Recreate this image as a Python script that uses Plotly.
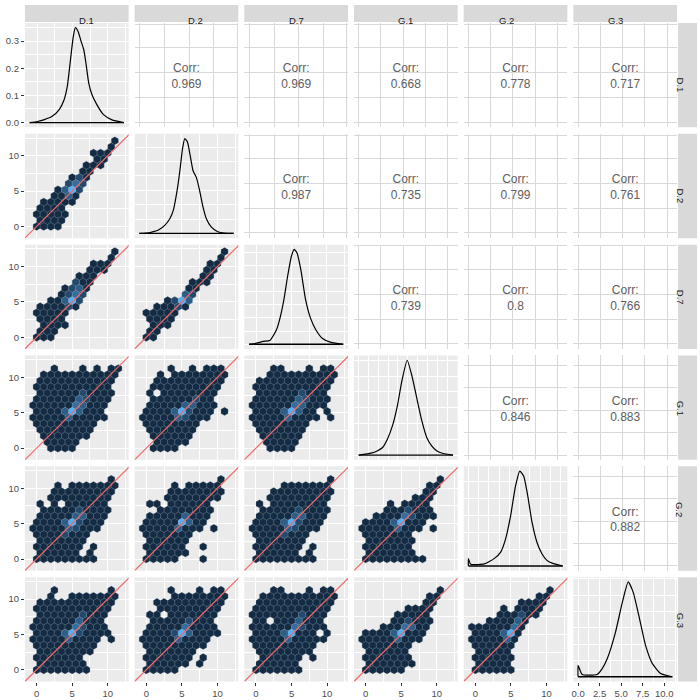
import numpy as np
import plotly.graph_objects as go

VARIABLES = ["D.1", "D.2", "D.7", "G.1", "G.2", "G.3"]

# correlations of the upper triangle, row by row
CORR_ROWS = [
    ["0.969", "0.969", "0.668", "0.778", "0.717"],
    ["0.987", "0.735", "0.799", "0.761"],
    ["0.739", "0.8", "0.766"],
    ["0.846", "0.883"],
    ["0.882"],
]

# density curves on the diagonal (value, density)
D1_X = [-1.1, 0.0, 1.0, 2.1, 3.1, 3.8, 4.25, 4.7, 5.1, 5.4, 5.8, 6.2, 6.6, 6.9, 7.3, 7.75, 8.45, 9.4, 10.6, 12.3]
D1_Y = [0, 0.004, 0.011, 0.023, 0.048, 0.084, 0.133, 0.23, 0.316, 0.349, 0.334, 0.30, 0.267, 0.219, 0.145, 0.103, 0.066, 0.029, 0.01, 0.0]
D2_X = [-1.0, 0.31, 1.0, 1.70, 2.62, 3.32, 3.80, 4.26, 4.72, 5.09, 5.41, 5.79, 6.21, 6.58, 7.04, 7.50, 7.98, 8.44, 9.14, 10.07, 10.99, 12.3]
D2_Y = [0, 0.002, 0.006, 0.012, 0.029, 0.052, 0.081, 0.139, 0.218, 0.294, 0.33, 0.318, 0.266, 0.218, 0.195, 0.150, 0.092, 0.052, 0.023, 0.006, 0.001, 0]
D7_X = [-1.0, 0.06, 1.0, 1.93, 2.86, 3.39, 3.92, 4.45, 4.99, 5.38, 5.78, 6.32, 6.98, 7.65, 8.44, 9.37, 10.57, 12.3]
D7_Y = [0, 0.004, 0.011, 0.014, 0.054, 0.101, 0.169, 0.259, 0.335, 0.36, 0.346, 0.281, 0.169, 0.101, 0.054, 0.022, 0.007, 0]
G1_X = [0, 1.58, 2.41, 3.04, 3.66, 4.30, 4.92, 5.54, 6.17, 6.79, 7.42, 8.04, 8.66, 9.29, 9.91, 10.75, 12.0]
G1_Y = [0, 0.006, 0.014, 0.024, 0.051, 0.093, 0.156, 0.24, 0.30, 0.249, 0.177, 0.108, 0.056, 0.029, 0.014, 0.005, 0]
G2_X = [0, 0, 0.24, 0.40, 1.93, 3.14, 3.94, 4.54, 5.15, 5.75, 6.27, 6.75, 7.24, 7.76, 8.36, 8.97, 9.57, 10.37, 11.5]
G2_Y = [0, 0.0216, 0.0059, 0.0039, 0.0059, 0.0216, 0.041, 0.080, 0.148, 0.236, 0.28, 0.265, 0.207, 0.129, 0.07, 0.036, 0.0165, 0.0067, 0]
G3_X = [0, 0, 0.47, 2.2, 2.8, 3.38, 4.34, 5.12, 5.82, 6.4, 7.05, 7.83, 8.61, 9.58, 10.94]
G3_Y = [0, 0.035, 0.007, 0.007, 0.025, 0.055, 0.136, 0.226, 0.29, 0.258, 0.187, 0.096, 0.041, 0.010, 0]

DENSITY = [(D1_X, D1_Y), (D2_X, D2_Y), (D7_X, D7_Y), (G1_X, G1_Y), (G2_X, G2_Y), (G3_X, G3_Y)]

# hexbin cells, top row first; "." empty, 1..9 = count level (1 lowest)
HEX_D2_D1 = ["............1.", "...........1..", ".........111..", ".........11...", "........111...",
             ".......11.....", "......121.....", ".....242......", "....1392......", "...1131.......",
             "..11111.......", ".1111.........", ".11111........", ".1111.........", ".1111........."]
HEX_D7_D1 = ["............1.", "...........1..", ".........111..", "........111...", ".......111....",
             "......211.....", ".....1231.....", "....1242......", "...11392......", ".111121.......",
             ".11111........", ".1111.........", "..1111........", ".111..........", ".111.........."]
HEX_D7_D2 = ["............1.", "...........1..", "..........11..", ".........11...", ".........11...",
             ".......111....", ".......11.....", "......32......", "....1293......", "..11121.......",
             ".11111........", ".1111.........", "..111.........", ".11...........", ".11..........."]
HEX_G1_D1 = ["..............", "...1...1.1.11.", "..11111111111.", ".11111111111..", ".11111111111..",
             ".11111121111..", ".11111132111..", "11111143111...", ".1111393111...", "11111311111...",
             ".111111111....", ".11111111.....", "..1111111.....", "..11111.......", "...1111......."]
HEX_G1_D2 = ["..............", "....1..1.111..", "...1.11111111.", "..1111111111..", "..1111111111..",
             ".1.11111111...", "..111111211...", ".1111133111...", ".1111392111.1.", "1111132111....",
             ".11111111.....", ".1111111......", "..111111......", "..11111.......", "..1111........"]
HEX_G1_D7 = ["..............", "...11...1.11..", "...1111111111.", ".11111111111..", ".11111111111..",
             ".1111112111...", ".11111132111..", "11111143111...", ".111139311.1..", "1111131111.1..",
             ".11111111.....", ".1111111......", "..111111......", "..11111.......", "...1111......."]
HEX_G2_D1 = ["..............", "...........1..", "....1.1111111.", "...111111111..", "...111111111..",
             ".1.1.111111...", "..1111121111..", ".1111133111...", ".1111392111...", "1111132111....",
             ".11112111.....", ".1111111......", ".1111111.1....", ".111111.1.....", ".111111111...."]
HEX_G2_D2 = ["..............", "...........1..", ".....1.11111..", "....11111111..", "....11111111..",
             ".11.111111....", "...11111111...", ".111113111....", ".111119311....", "111113111.1...",
             ".1111111......", ".111111.......", ".111111..1....", ".111111.......", ".11111...1...."]
HEX_G2_D7 = ["..............", "...........1..", ".....1111111..", "...111111111..", "...111111111..",
             ".1.11111111...", "..1111121111..", ".1111133111...", ".1111392111...", "1111132111....",
             ".11112111.....", ".1111111......", ".1111111.1....", ".111111.1.....", ".111111111...."]
HEX_G2_G1 = ["..............", "...........1..", "..........11..", ".........11...", "........111...",
             "....1.1111....", "....1112111...", "..111142111...", ".111139111....", "111113111.1...",
             ".1111111......", ".1111111......", ".1111111......", ".1111111......", ".111111111...."]
HEX_G3_D1 = ["..............", "...1.......1..", "...1..1111111.", ".11111111111..", ".11111111111..",
             ".1111112111...", ".1111113111...", "11111142111...", ".11113921111..", "1111131111.1..",
             ".111111111....", ".11111111.....", ".1111111......", ".1111111......", ".11111111....."]
HEX_G3_D2 = ["..............", "....1...1.11..", ".....11111111.", "..1111111111..", "...111111111..",
             ".11.1111111...", "..111112111...", ".1111141111...", ".11112931111..", "1111131111....",
             ".111111111....", ".1111111......", ".1111111.1....", ".111111.1.....", ".11111........"]
HEX_G3_D7 = ["..............", "...11...1.11..", "..11111111111.", ".11111111111..", ".11111111111..",
             "11111112111...", ".11.1113111...", "11111142111...", ".111139111.1..", "11111311111...",
             ".111111111....", ".11111111.....", "..111111.1....", ".111111.......", ".1111111......"]
HEX_G3_G1 = ["..............", "...........1..", "..........11..", ".........11...", ".......1111...",
             ".....11111....", ".....112111...", "...1114311....", ".111139111....", "111113111.....",
             ".1111111......", ".111111.......", ".1111111......", ".1111111......", ".111111......."]
HEX_G3_G2 = ["..............", "...........1..", "..........11..", ".......1111...", ".....1.1111...",
             "....111211....", "...111131.....", "11111141......", ".1111391......", "1111131.......",
             ".111111.......", ".11111........", ".111111.......", ".11111........", ".111111......."]

HEXBINS = {
    (1, 0): HEX_D2_D1,
    (2, 0): HEX_D7_D1, (2, 1): HEX_D7_D2,
    (3, 0): HEX_G1_D1, (3, 1): HEX_G1_D2, (3, 2): HEX_G1_D7,
    (4, 0): HEX_G2_D1, (4, 1): HEX_G2_D2, (4, 2): HEX_G2_D7, (4, 3): HEX_G2_G1,
    (5, 0): HEX_G3_D1, (5, 1): HEX_G3_D2, (5, 2): HEX_G3_D7, (5, 3): HEX_G3_G1, (5, 4): HEX_G3_G2,
}

FONT = "Liberation Sans, Arial, sans-serif"
HEX_XRANGE = [-1.64, 12.94]
HEX_YRANGE = [-1.65, 13.1]
SQ3 = np.sqrt(3.0)
HEX_DX = np.array([0.0, 0.5, 0.5, 0.0, -0.5, -0.5, 0.0])
HEX_DY = np.array([1.0, 0.5, -0.5, -1.0, -0.5, 0.5, 1.0]) / SQ3
LOW = np.array([19, 43, 67])
HIGH = np.array([86, 177, 247])
# gridline positions of the correlation panels (fraction of the panel)
UPPER_D = [0.05, 0.2875, 0.525, 0.7625, 0.99]
UPPER_G = [0.045, 0.26, 0.475, 0.69, 0.905]


def suffix(i, j):
    k = i * 6 + j + 1
    return "" if k == 1 else str(k)


def fill_color(level):
    t = ((level - 1) / 8.0) ** 0.7
    r, g, b = LOW + (HIGH - LOW) * t
    return f"rgb({r:.0f},{g:.0f},{b:.0f})"


def hex_traces(grid, sx):
    groups = {}
    nrow = len(grid)
    for k, line in enumerate(grid):
        r = nrow - 1 - k
        for c, ch in enumerate(line):
            if ch == ".":
                continue
            groups.setdefault(int(ch), []).append((c - 1 + 0.5 * (r % 2), r * SQ3 / 2))
    traces = []
    for level in sorted(groups):
        xs, ys = [], []
        for cx, cy in groups[level]:
            xs += list(cx + HEX_DX) + [None]
            ys += list(cy + HEX_DY) + [None]
        traces.append(go.Scatter(x=xs, y=ys, mode="lines", fill="toself",
                                 fillcolor=fill_color(level),
                                 line=dict(color="rgba(120,138,158,0.55)", width=0.5),
                                 xaxis="x" + sx, yaxis="y" + sx, hoverinfo="skip"))
    return traces


def panel_domain(i, j):
    top = 23 + 111 * i
    return [(23 + 110 * j) / 700, (127 + 110 * j) / 700], [1 - (top + 104.5) / 700, 1 - top / 700]


traces = []
shapes = []
annotations = []
layout = dict(width=700, height=700, margin=dict(l=0, r=0, t=0, b=0),
              paper_bgcolor="white", plot_bgcolor="rgba(0,0,0,0)",
              showlegend=False, font=dict(family=FONT))

tick_font = dict(family=FONT, size=9.5, color="#4D4D4D")

for i in range(6):
    for j in range(6):
        sx = suffix(i, j)
        xdom, ydom = panel_domain(i, j)
        xa = dict(domain=xdom, anchor="y" + sx, zeroline=False, showline=False,
                  showticklabels=False, ticks="", gridwidth=1.1, tickfont=tick_font)
        ya = dict(domain=ydom, anchor="x" + sx, zeroline=False, showline=False,
                  showticklabels=False, ticks="", gridwidth=1.1, tickfont=tick_font)
        if i > j:
            bg = "#EBEBEB"
            grid_minor = dict(showgrid=True, gridcolor="white", gridwidth=0.55, dtick=2.5)
            xa.update(range=HEX_XRANGE, tick0=0, dtick=5, gridcolor="white", minor=dict(grid_minor))
            ya.update(range=HEX_YRANGE, tick0=0, dtick=5, gridcolor="white", minor=dict(grid_minor))
            traces += hex_traces(HEXBINS[(i, j)], sx)
            # y = x reference line, clipped to the panel
            lo = min(HEX_XRANGE[0], HEX_YRANGE[0])
            hi = max(HEX_XRANGE[1], HEX_YRANGE[1])
            shapes.append(dict(type="line", xref="x" + sx, yref="y" + sx, x0=lo, y0=lo, x1=hi, y1=hi,
                               line=dict(color="#F06A6A", width=1.2), layer="above"))
        elif i == j:
            bg = "#EBEBEB"
            dx, dy = DENSITY[i]
            lo, hi = min(dx), max(dx)
            pad = 0.05 * (hi - lo)
            peak = max(dy)
            step = 5 if i < 3 else 2.5
            xa.update(range=[lo - pad, hi + pad], tick0=0, dtick=step, gridcolor="white",
                      minor=dict(showgrid=True, gridcolor="white", gridwidth=0.55, dtick=step / 2))
            ya.update(range=[-0.05 * peak, 1.05 * peak], tick0=0, dtick=0.1, gridcolor="white",
                      minor=dict(showgrid=True, gridcolor="white", gridwidth=0.55, dtick=0.05))
            traces.append(go.Scatter(x=dx, y=dy, mode="lines",
                                     line=dict(color="black", width=1.2, shape="spline", smoothing=0.5),
                                     xaxis="x" + sx, yaxis="y" + sx, hoverinfo="skip"))
            traces.append(go.Scatter(x=[lo, hi], y=[0, 0], mode="lines",
                                     line=dict(color="black", width=1.4),
                                     xaxis="x" + sx, yaxis="y" + sx, hoverinfo="skip"))
        else:
            bg = "white"
            xa.update(range=[0, 1], tickvals=UPPER_D if j < 3 else UPPER_G, gridcolor="#D9D9D9")
            ya.update(range=[0, 1], tickvals=UPPER_D[:4] + [0.988] if i < 3 else UPPER_G,
                      gridcolor="#D9D9D9")
            traces.append(go.Scatter(x=[0.5], y=[0.48], mode="text",
                                     text=["Corr:<br>" + CORR_ROWS[i][j - i - 1]],
                                     textposition="middle center",
                                     textfont=dict(family=FONT, size=12, color="#5E5E5E"),
                                     xaxis="x" + sx, yaxis="y" + sx, hoverinfo="skip"))
        if i == 5:
            xa.update(showticklabels=True, ticks="outside", ticklen=3, tickcolor="#333333")
            if j == 5:
                xa.update(tickformat=".1f")
        if j == 0:
            ya.update(showticklabels=True, ticks="outside", ticklen=3, tickcolor="#333333")
            if i == 0:
                ya.update(tickformat=".1f")
        layout["xaxis" + sx] = xa
        layout["yaxis" + sx] = ya
        shapes.append(dict(type="rect", xref=f"x{sx} domain", yref=f"y{sx} domain",
                           x0=0, x1=1, y0=0, y1=1, fillcolor=bg, line_width=0, layer="below"))

# facet strips
for n, name in enumerate(VARIABLES):
    xdom, _ = panel_domain(0, n)
    shapes.append(dict(type="rect", xref="paper", yref="paper", x0=xdom[0], x1=xdom[1],
                       y0=1 - 22 / 700, y1=1 - 5 / 700, fillcolor="#D9D9D9", line_width=0))
    annotations.append(dict(xref="paper", yref="paper", x=(xdom[0] + xdom[1]) / 2,
                            y=1 - 13.5 / 700, text=name, showarrow=False,
                            font=dict(family=FONT, size=9.5, color="#1A1A1A")))
    _, ydom = panel_domain(n, 0)
    shapes.append(dict(type="rect", xref="paper", yref="paper", x0=678 / 700, x1=697 / 700,
                       y0=ydom[0], y1=ydom[1], fillcolor="#D9D9D9", line_width=0))
    annotations.append(dict(xref="paper", yref="paper", x=687.5 / 700,
                            y=(ydom[0] + ydom[1]) / 2, text=name, showarrow=False, textangle=90,
                            font=dict(family=FONT, size=9.5, color="#1A1A1A")))

layout["shapes"] = shapes
layout["annotations"] = annotations

fig = go.Figure(data=traces, layout=layout)
# page body has a default 8px margin; drop it so the figure fills the window
fig.write_html("out.html", config={"displayModeBar": False},
               post_script="document.body.style.margin='0px';")
